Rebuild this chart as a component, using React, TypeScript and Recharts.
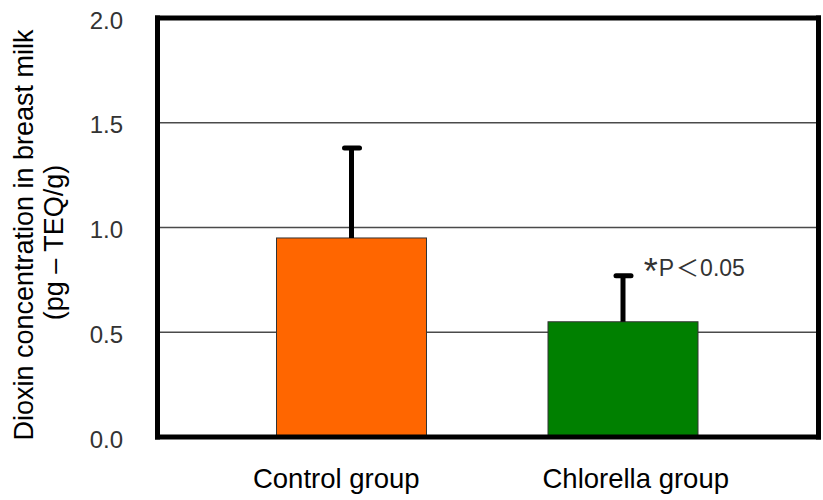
import React from 'react';
import { BarChart, Bar, XAxis, YAxis, CartesianGrid, Cell, ReferenceDot } from 'recharts';

const categories = ['Control group', 'Chlorella group'];
const meanValues = [0.95, 0.55];
const sdUpper = [0.43, 0.22];
const barColors = ['#FF6600', '#008000'];
const yTicks = [0, 0.5, 1.0, 1.5, 2.0];
const yTitleLines = ['Dioxin concentration in breast milk', '(pg \u2013 TEQ/g)'];
const sigCategory = 'Chlorella group';
const sigY = 0.78;
const sigStar = '*';
const sigText = 'P';
const sigLess = '\uFF1C';
const sigValue = '0.05';

const data = categories.map((c, i) => ({ name: c, value: meanValues[i], sd: sdUpper[i] }));

const FONT = "'Liberation Sans', Arial, 'Noto Sans CJK JP', sans-serif";
const BORDER = { stroke: '#000', strokeWidth: 5, strokeLinecap: 'square' as const };

const BarWithError = (props: any) => {
  const { x, y, width, height, payload } = props;
  if (!height || height <= 0) return null;
  const idx = categories.indexOf(payload.name);
  const pxPerUnit = height / payload.value;
  const cx = x + width / 2;
  const topY = y - payload.sd * pxPerUnit;
  return (
    <g>
      <rect x={x} y={y} width={width} height={height} fill={barColors[idx]} stroke="#333" strokeWidth={1} />
      <line x1={cx} y1={y} x2={cx} y2={topY} stroke="#000" strokeWidth={5} />
      <line x1={cx - 7} y1={topY} x2={cx + 8} y2={topY} stroke="#000" strokeWidth={5} strokeLinecap="round" />
    </g>
  );
};

const xLabelShift = [-15, 13];
const XTick = (props: any) => {
  const { x, y, payload, index } = props;
  return (
    <text x={x + (xLabelShift[index] || 0)} y={y} dy={51} textAnchor="middle" fontSize={27.5} fill="#000" fontFamily={FONT}>
      {payload.value}
    </text>
  );
};

const YTick = (props: any) => {
  const { x, y, payload } = props;
  return (
    <text x={x} y={y} dy={10.5} textAnchor="end" fontSize={24} fill="#333" fontFamily={FONT}>
      {Number(payload.value).toFixed(1)}
    </text>
  );
};

const YTitle = (props: any) => {
  const vb = props.viewBox || { x: 0, y: 18, width: 157.5, height: 419 };
  const cy = vb.y + vb.height / 2;
  const lines = [
    { x: 33, y: cy + 7.5 },
    { x: 63, y: cy + 15 },
  ];
  return (
    <g>
      {yTitleLines.map((t, i) => (
        <text
          key={i}
          x={lines[i].x}
          y={lines[i].y}
          transform={`rotate(-90, ${lines[i].x}, ${lines[i].y})`}
          textAnchor="middle"
          fontSize={27}
          fill="#000"
          fontFamily={FONT}
        >
          {t}
        </text>
      ))}
    </g>
  );
};

const SigLabel = (props: any) => {
  const { cx, cy } = props;
  if (cx == null || cy == null) return null;
  return (
    <text x={cx + 21} y={cy + 2.5} fontSize={23} fill="#333" fontFamily={FONT}>
      <tspan fontSize={36} dy={8}>{sigStar}</tspan>
      <tspan dy={-8} dx={1}>{sigText}</tspan>
      <tspan dx={2}>{sigLess}</tspan>
      <tspan dx={1}>{sigValue}</tspan>
    </text>
  );
};

export default function App() {
  return (
    <div style={{ position: 'absolute', left: 0, top: 0, background: '#fff' }}>
      <BarChart width={823} height={500} data={data} margin={{ top: 17, right: 3.5, left: 0, bottom: 0 }}>
        <CartesianGrid vertical={false} stroke="#4a4a4a" strokeWidth={1.5} />
        <XAxis
          dataKey="name"
          padding={{ left: 58, right: 60 }}
          axisLine={BORDER}
          tickLine={false}
          tickSize={0}
          tickMargin={0}
          height={63}
          interval={0}
          tick={<XTick />}
        />
        <XAxis xAxisId="top" orientation="top" dataKey="name" height={1} axisLine={BORDER} tickLine={false} tick={false} />
        <YAxis
          domain={[0, 2]}
          ticks={yTicks}
          width={157.5}
          axisLine={BORDER}
          tickLine={false}
          tickSize={0}
          tickMargin={34.5}
          tick={<YTick />}
          label={<YTitle />}
        />
        <YAxis yAxisId="right" orientation="right" domain={[0, 2]} width={1} axisLine={BORDER} tickLine={false} tick={false} />
        <Bar dataKey="value" barSize={150} isAnimationActive={false} shape={<BarWithError />}>
          {data.map((d, i) => (
            <Cell key={d.name} fill={barColors[i]} />
          ))}
        </Bar>
        <ReferenceDot x={sigCategory} y={sigY} r={0} shape={<SigLabel />} />
      </BarChart>
    </div>
  );
}
